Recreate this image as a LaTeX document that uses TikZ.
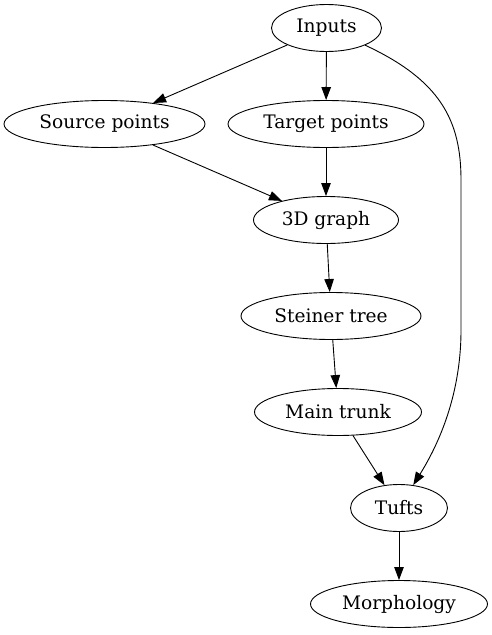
\documentclass[tikz,border=0pt]{standalone}
\usepackage{fontspec}
\setmainfont{DejaVu Serif}
\usetikzlibrary{arrows.meta, shapes.geometric}

\begin{document}
\begin{tikzpicture}[x=1pt, y=-1pt,
    stage/.style={ellipse, draw=borderColour, line width=0.9pt, minimum height=47pt,
      inner sep=0pt, font=\fontsize{18.6}{21}\selectfont},
    edge/.style={draw=borderColour, line width=0.9pt, -{Triangle[length=13pt, width=9.5pt]}}]
    % Define colours
    \definecolor{borderColour}{HTML}{000000}

    % Define the row spacing
    \def\rowStep{96}

  % Fix the picture size
  \useasboundingbox (0,0) rectangle (492,635);

  % Place the stages
  \node[stage, minimum width=110pt] (in)  at (326.5,28)          {Inputs};
  \node[stage, minimum width=201pt] (src) at (104.5,28+\rowStep) {Source points};
  \node[stage, minimum width=196pt] (tgt) at (326,28+\rowStep)   {Target points};
  \node[stage, minimum width=145pt] (gr)  at (326,28+2*\rowStep) {3D graph};
  \node[stage, minimum width=180pt] (st)  at (331,28+3*\rowStep) {Steiner tree};
  \node[stage, minimum width=167pt] (mt)  at (338,28+4*\rowStep) {Main trunk};
  \node[stage, minimum width=97pt]  (tu)  at (399,28+5*\rowStep) {Tufts};
  \node[stage, minimum width=177pt] (mo)  at (399,28+6*\rowStep) {Morphology};

  % Draw the straight links
  \draw[edge] (in) -- (src);
  \draw[edge] (in) -- (tgt);
  \draw[edge] (src) -- (gr);
  \draw[edge] (tgt) -- (gr);
  \draw[edge] (gr) -- (st);
  \draw[edge] (st) -- (mt);
  \draw[edge] (mt) -- (tu);
  \draw[edge] (tu) -- (mo);

  % Draw the long link down the right side
  \draw[edge] (in.-24) .. controls (440,80) and (461,120) .. (461,180)
    -- (461,330) .. controls (461,400) and (435,450) .. (tu);

\end{tikzpicture}
\end{document}
